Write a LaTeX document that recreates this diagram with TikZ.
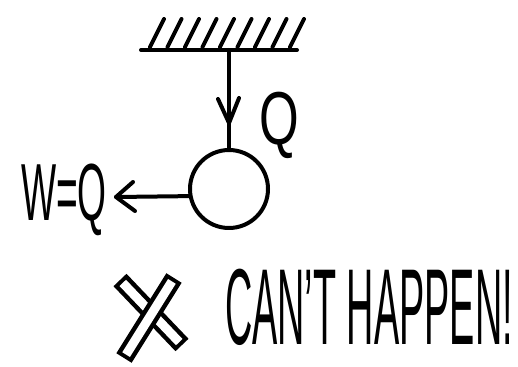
\documentclass[tikz,border=0pt]{standalone}
\usepackage{fontspec}
\setmainfont{Liberation Sans}
\usetikzlibrary{calc}
\tikzset{
  ink/.style={line width=4pt, line cap=round, line join=round, black},
  handtext/.style={inner sep=0pt, font=\fontsize{60}{60}\selectfont},
}
\begin{document}
\begin{tikzpicture}[x=1pt,y=-1pt]
\useasboundingbox (0,0) rectangle (518,366);
% wall
\coordinate (wallL) at (141,50);
\coordinate (wallR) at (297,50);
\coordinate (top) at (229,50);
\draw[ink] (wallL) -- (wallR);
\foreach \i in {0,...,8}{
  \draw[ink] ({150+17.5*\i},47) -- ({164+17.5*\i},19);
}
% ball
\node[ink, draw, circle, minimum size=78pt, inner sep=0pt] (ball) at (229,189) {};
\coordinate (vtip) at (229,123);
\draw[ink] (top) -- (ball.north);
\draw[ink] ($(vtip)+(-11,-24)$) -- (vtip) -- ($(vtip)+(10,-25)$);
\node[handtext] (Q) at (279,125) {\scalebox{0.85}[1.25]{Q}};
% work arrow
\node[handtext] (W) at (64,200) {\scalebox{0.62}[1.35]{W=Q}};
\coordinate (wtip) at (116,197);
\draw[ink] (ball.190) -- (wtip);
\draw[ink] ($(wtip)+(17,-15)$) -- (wtip) -- ($(wtip)+(19,14)$);
% cross
\coordinate (c1a) at (120,280);
\coordinate (c1b) at (182,345);
\coordinate (c2a) at (174,278);
\coordinate (c2b) at (124,358);
\draw[line width=18pt] (c1a) -- (c1b);
\draw[line width=9pt, white, shorten <=4pt, shorten >=4pt] (c1a) -- (c1b);
\draw[line width=18pt] (c2a) -- (c2b);
\draw[line width=9pt, white, shorten <=4pt, shorten >=4pt] (c2a) -- (c2b);
\node[inner sep=0pt, font=\fontsize{90}{90}\selectfont] (txt) at (369,307) {\scalebox{0.42}[1.2]{CAN'T HAPPEN!}};
\end{tikzpicture}
\end{document}
